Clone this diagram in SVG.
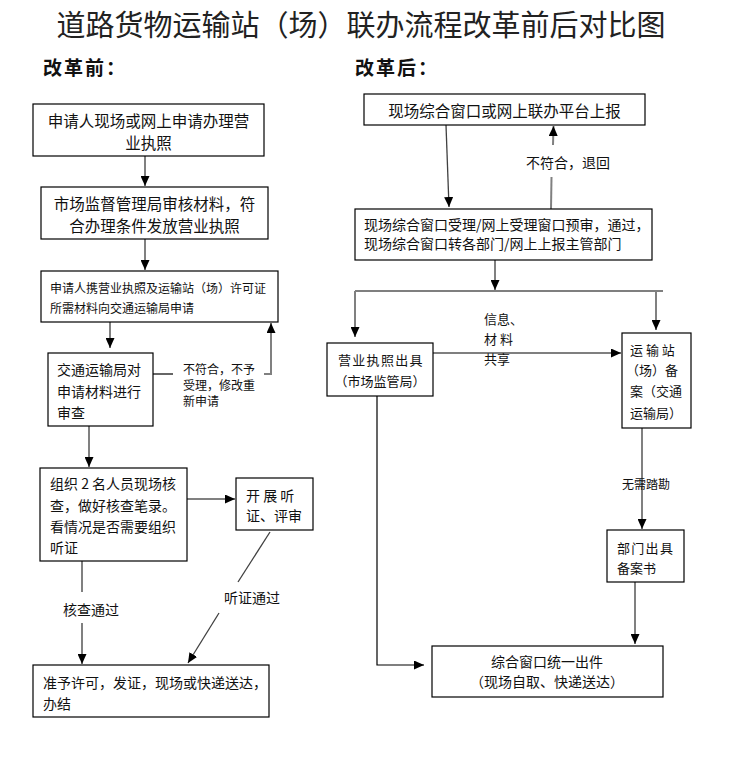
<svg xmlns="http://www.w3.org/2000/svg" width="732" height="775" viewBox="0 0 732 775">
<style>
text{font-family:"Noto Sans CJK SC","Noto Sans",sans-serif;fill:#111;dominant-baseline:central}
.box{fill:#fff;stroke:#000;stroke-width:1.2}
.g{stroke:#808080;stroke-width:2;fill:none}
.k{stroke:#000;stroke-width:1.2;fill:none}
.d{stroke:#404040;stroke-width:1.3;fill:none}
.f16{font-size:15.5px}
.f14{font-size:14px}
.f13{font-size:13px}
.f12{font-size:12px}
.mid{text-anchor:middle}
.h{font-size:19px;font-weight:bold;letter-spacing:2px}
</style>
<defs>
<marker id="ak" markerUnits="userSpaceOnUse" markerWidth="10" markerHeight="9" refX="10" refY="4.5" orient="auto"><path d="M0,0 L10,4.5 L0,9 z" fill="#000"/></marker>
</defs>
<rect width="732" height="775" fill="#fff"/>
<text x="361" y="23" class="mid" style="font-size:29px;fill:#222">道路货物运输站（场）联办流程改革前后对比图</text>
<text x="43" y="66" class="h">改革前：</text>
<text x="355" y="66" class="h">改革后：</text>

<g id="connectors">
<line class="g" x1="145" y1="156" x2="145" y2="186" marker-end="url(#ak)"/>
<line class="g" x1="145" y1="239" x2="145" y2="270" marker-end="url(#ak)"/>
<line class="g" x1="110" y1="322" x2="110" y2="348" marker-end="url(#ak)"/>
<polyline class="k" points="153,374 173,374"/>
<polyline class="g" points="264,374 271,374 271,323" marker-end="url(#ak)"/>
<line class="g" x1="89" y1="426" x2="89" y2="467" marker-end="url(#ak)"/>
<line class="g" x1="187" y1="499" x2="235" y2="499" marker-end="url(#ak)"/>
<line class="g" x1="82" y1="561" x2="82" y2="592"/>
<line class="g" x1="82" y1="623" x2="82" y2="664" marker-end="url(#ak)"/>
<line class="d" x1="270" y1="532" x2="238" y2="582"/>
<line class="d" x1="219" y1="613" x2="188" y2="663" marker-end="url(#ak)"/>

<line class="d" x1="446" y1="125" x2="449" y2="207" marker-end="url(#ak)"/>
<line class="g" x1="551" y1="209" x2="551.5" y2="177"/>
<line class="g" x1="553" y1="145" x2="553.5" y2="126" marker-end="url(#ak)"/>
<line class="g" x1="495" y1="260" x2="495" y2="290" marker-end="url(#ak)"/>
<line class="k" x1="355" y1="291" x2="663" y2="291"/>
<line class="g" x1="355" y1="291" x2="355" y2="337" marker-end="url(#ak)"/>
<line class="g" x1="656" y1="291" x2="656" y2="330" marker-end="url(#ak)"/>
<line class="k" x1="433" y1="353" x2="621" y2="353" marker-end="url(#ak)"/>
<polyline class="k" points="377,396 377,665 424,665" marker-end="url(#ak)"/>
<line class="g" x1="642" y1="428" x2="642" y2="529" marker-end="url(#ak)"/>
<line class="g" x1="635" y1="582" x2="635" y2="644" marker-end="url(#ak)"/>
</g>

<g id="labels">
<text x="183" y="368" class="f12">不符合，不予</text>
<text x="183" y="384" class="f12">受理，修改重</text>
<text x="183" y="400" class="f12">新申请</text>
<text x="63" y="609" class="f14">核查通过</text>
<text x="224" y="597" class="f14">听证通过</text>
<text x="526" y="162" class="f14">不符合，退回</text>
<text x="484" y="318" class="f13">信息、</text>
<text x="484" y="338" class="f13">材 料</text>
<text x="484" y="358" class="f13">共享</text>
<text x="646" y="483" class="f12 mid">无需踏勘</text>
</g>

<g id="n1"><rect class="box" x="33" y="104" width="231" height="52"/>
<text x="148.5" y="120" class="f16 mid">申请人现场或网上申请办理营</text>
<text x="148.5" y="142" class="f16 mid">业执照</text></g>
<g id="n2"><rect class="box" x="41" y="187" width="227" height="52"/>
<text x="154.5" y="203" class="f16 mid">市场监督管理局审核材料，符</text>
<text x="154.5" y="225" class="f16 mid">合办理条件发放营业执照</text></g>
<g id="n3"><rect class="box" x="41" y="271" width="237" height="51"/>
<text x="50" y="287" class="f12">申请人携营业执照及运输站（场）许可证</text>
<text x="50" y="307" class="f12">所需材料向交通运输局申请</text></g>
<g id="n4"><rect class="box" x="48" y="353" width="105" height="73"/>
<text x="57" y="369" class="f14">交通运输局对</text>
<text x="57" y="391" class="f14">申请材料进行</text>
<text x="57" y="412" class="f14">审查</text></g>
<g id="n5"><rect class="box" x="40" y="468" width="147" height="93"/>
<text x="50" y="483" class="f14">组织 2 名人员现场核</text>
<text x="50" y="505" class="f14">查，做好核查笔录。</text>
<text x="50" y="526" class="f14">看情况是否需要组织</text>
<text x="50" y="547" class="f14">听证</text></g>
<g id="n6"><rect class="box" x="236" y="478" width="77" height="52"/>
<text x="246" y="495" class="f14">开 展 听</text>
<text x="246" y="515" class="f14">证、评审</text></g>
<g id="n7"><rect class="box" x="33" y="665" width="236" height="52"/>
<text x="43" y="682" class="f14">准予许可，发证，现场或快递送达，</text>
<text x="43" y="703" class="f14">办结</text></g>

<g id="r1"><rect class="box" x="364" y="94" width="281" height="31"/>
<text x="504.5" y="110" class="f16 mid">现场综合窗口或网上联办平台上报</text></g>
<g id="r2"><rect class="box" x="355" y="209" width="297" height="51"/>
<text x="364" y="224" class="f14">现场综合窗口受理/网上受理窗口预审，通过，</text>
<text x="364" y="243" class="f14">现场综合窗口转各部门/网上上报主管部门</text></g>
<g id="r3"><rect class="box" x="327" y="343" width="106" height="53"/>
<text x="338" y="359" class="f13" style="letter-spacing:1.3px">营业执照出具</text>
<text x="380" y="380" class="f13 mid">（市场监管局）</text></g>
<g id="r4"><rect class="box" x="622" y="333" width="69" height="95"/>
<text x="630" y="349" class="f13">运 输 站</text>
<text x="626" y="369" class="f13">（场）备</text>
<text x="630" y="390" class="f13">案（交通</text>
<text x="630" y="412" class="f13">运输局）</text></g>
<g id="r5"><rect class="box" x="607" y="530" width="77" height="52"/>
<text x="617" y="547" class="f13" style="letter-spacing:1.3px">部门出具</text>
<text x="617" y="567" class="f13">备案书</text></g>
<g id="r6"><rect class="box" x="432" y="646" width="231" height="51"/>
<text x="547" y="661" class="f14 mid">综合窗口统一出件</text>
<text x="547" y="681" class="f14 mid">（现场自取、快递送达）</text></g>
</svg>
